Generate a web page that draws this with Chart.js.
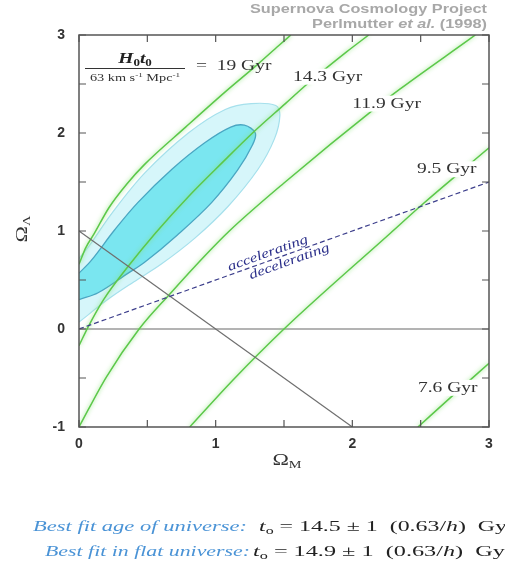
<!DOCTYPE html>
<html>
<head>
<meta charset="utf-8">
<script src="https://cdn.jsdelivr.net/npm/chart.js@4.4.1/dist/chart.umd.min.js"></script>
<style>
html, body { margin: 0; padding: 0; background: #fff; }
canvas { display: block; }
</style>
</head>
<body>
<canvas id="cosmo" width="505" height="571"></canvas>
<script>
// tick values (labels only on integers)
const xTickLabels = [0, 1, 2, 3];
const yTickLabels = [-1, 0, 1, 2, 3];

// constant age curves [Omega_M, Omega_Lambda]
const age19 = [[0, 0.66], [0.05, 0.83], [0.11, 0.97], [0.22, 1.24], [0.35, 1.48], [0.48, 1.68], [0.78, 2.06], [1.07, 2.42], [1.29, 2.68], [1.46, 2.89], [1.55, 3.0]];
const age143 = [[0, -0.17], [0.07, 0.03], [0.18, 0.30], [0.36, 0.64], [0.56, 0.98], [0.80, 1.35], [1.05, 1.70], [1.27, 2.0], [1.51, 2.30], [1.67, 2.5], [1.96, 2.83], [2.12, 3.0]];
const age119 = [[0, -1.0], [0.2, -0.49], [0.44, 0], [0.66, 0.35], [0.93, 0.76], [1.1, 1.0], [1.5, 1.49], [2.2, 2.29], [2.35, 2.45], [2.84, 2.94], [2.9, 3.0]];
const age95 = [[0.81, -1.0], [1.12, -0.53], [1.5, 0], [2.28, 0.98], [2.52, 1.28], [2.84, 1.66], [3.0, 1.85]];
const age76 = [[2.48, -1.0], [2.75, -0.66], [3.0, -0.35]];

// confidence regions (closed outlines, clipped at Omega_M = 0)
const inner68 = [[0, 0.30], [0.14, 0.37], [0.36, 0.57], [0.48, 0.68], [0.72, 0.96], [0.97, 1.29], [1.16, 1.62], [1.27, 1.88], [1.29, 2.0], [1.21, 2.08], [1.11, 2.06], [0.92, 1.90], [0.68, 1.63], [0.43, 1.29], [0.26, 1.01], [0.09, 0.70], [0, 0.57]];
const outer95 = [[0, 0.07], [0.21, 0.30], [0.40, 0.48], [0.60, 0.66], [0.85, 0.93], [1.09, 1.25], [1.31, 1.63], [1.43, 1.94], [1.47, 2.18], [1.44, 2.28], [1.26, 2.30], [1.07, 2.24], [0.80, 2.0], [0.48, 1.59], [0.24, 1.18], [0.07, 0.84], [0, 0.72]];

// reference lines
const zeroLine = [[0, 0], [3, 0]];
const flatLine = [[0, 1], [2, -1]];
const accelLine = [[0, 0], [3, 1.5]];

const SX = 1.3; // the original picture is stretched sideways
const SERIF = '"Liberation Serif", "DejaVu Serif", serif';
const SANS = '"Liberation Sans", Arial, sans-serif';

const pts = arr => arr.map(p => ({ x: p[0], y: p[1] }));

function curve(data, order) {
    return {
        data: pts(data), showLine: true, pointRadius: 0, borderColor: '#5cc84a',
        borderWidth: 1.5, cubicInterpolationMode: 'monotone', fill: false, glow: true, order: order
    };
}

function region(data, fillCol, lineCol, lw, order) {
    return {
        data: pts(data), showLine: true, pointRadius: 0, tension: 0.35, fill: 'shape',
        backgroundColor: fillCol, borderColor: lineCol, borderWidth: lw, order: order
    };
}

function runsWidth(ctx, list, sx) {
    let w = 0;
    list.forEach(r => { ctx.font = r.f; w += ctx.measureText(r.t).width * sx; });
    return w;
}

// draw text runs one after the other, stretched sideways by sx
function runs(ctx, list, x, y, sx = SX) {
    let cx = x;
    list.forEach(r => {
        ctx.save();
        ctx.font = r.f;
        ctx.fillStyle = r.c || '#222';
        ctx.textBaseline = 'alphabetic';
        ctx.textAlign = 'left';
        ctx.translate(cx, y + (r.dy || 0));
        ctx.scale(sx, 1);
        ctx.fillText(r.t, 0, 0);
        cx += ctx.measureText(r.t).width * sx;
        ctx.restore();
    });
    return cx;
}

// same, squeezed or stretched to a given width
function runsFit(ctx, list, x, y, w) {
    runs(ctx, list, x, y, w / runsWidth(ctx, list, 1));
}

function gyrLabel(ctx, text, px, py) {
    const f = '15px ' + SERIF;
    ctx.font = f;
    const w = ctx.measureText(text).width * SX;
    ctx.fillStyle = '#fff';
    ctx.fillRect(px - 2, py - 12, w + 4, 16);
    runs(ctx, [{ t: text, f: f, c: '#333' }], px, py);
}

const decoPlugin = {
    id: 'deco',
    beforeDatasetDraw(chart, args) {
        const ds = chart.data.datasets[args.index];
        if (ds.glow) {
            chart.ctx.save();
            chart.ctx.shadowColor = 'rgba(130,225,110,0.9)';
            chart.ctx.shadowBlur = 4;
        }
    },
    afterDatasetDraw(chart, args) {
        if (chart.data.datasets[args.index].glow) chart.ctx.restore();
    },
    afterDatasetsDraw(chart) {
        const { ctx, chartArea: a, scales: { x, y } } = chart;

        // age labels on white patches
        gyrLabel(ctx, '14.3 Gyr', x.getPixelForValue(1.565), y.getPixelForValue(2.585) + 5);
        gyrLabel(ctx, '11.9 Gyr', x.getPixelForValue(2.0), y.getPixelForValue(2.31) + 5);
        gyrLabel(ctx, '9.5 Gyr', x.getPixelForValue(2.473), y.getPixelForValue(1.64) + 5);
        gyrLabel(ctx, '7.6 Gyr', x.getPixelForValue(2.48), y.getPixelForValue(-0.59) + 5);

        // H0 t0 legend
        const cx = 135;
        const num = [
            { t: 'H', f: 'italic bold 15px ' + SERIF },
            { t: '0', f: 'bold 10px ' + SERIF, dy: 3 },
            { t: 't', f: 'italic bold 15px ' + SERIF },
            { t: '0', f: 'bold 10px ' + SERIF, dy: 3 }
        ];
        runs(ctx, num, cx - runsWidth(ctx, num, SX) / 2, 63);
        ctx.strokeStyle = '#333';
        ctx.lineWidth = 1;
        ctx.beginPath();
        ctx.moveTo(85, 68.5);
        ctx.lineTo(185, 68.5);
        ctx.stroke();
        const den = [
            { t: '63 km s', f: '11px ' + SERIF, c: '#333' },
            { t: '-1', f: '7px ' + SERIF, c: '#333', dy: -4 },
            { t: ' Mpc', f: '11px ' + SERIF, c: '#333' },
            { t: '-1', f: '7px ' + SERIF, c: '#333', dy: -4 }
        ];
        runs(ctx, den, cx - runsWidth(ctx, den, SX) / 2, 81);
        runs(ctx, [{ t: '=  19 Gyr', f: '15px ' + SERIF, c: '#333' }], 196, 70);

        // accelerating / decelerating along the dashed line
        const x0 = x.getPixelForValue(0), y0 = y.getPixelForValue(0);
        const x1 = x.getPixelForValue(3), y1 = y.getPixelForValue(1.5);
        const ang = Math.atan2(y1 - y0, x1 - x0);
        const along = (v, off, text) => {
            const px = x.getPixelForValue(v), py = y.getPixelForValue(v / 2);
            const item = [{ t: text, f: 'italic 13px ' + SERIF, c: '#2b2f8a' }];
            ctx.save();
            ctx.translate(px, py);
            ctx.rotate(ang);
            runs(ctx, item, -runsWidth(ctx, item, SX) / 2, off);
            ctx.restore();
        };
        along(1.40, -4, 'accelerating');
        along(1.52, 11, 'decelerating');

        // frame and inward ticks on all four sides
        ctx.save();
        ctx.strokeStyle = '#555';
        ctx.lineWidth = 1.5;
        ctx.strokeRect(a.left, a.top, a.right - a.left, a.bottom - a.top);
        ctx.lineWidth = 1.2;
        ctx.beginPath();
        x.ticks.forEach(t => {
            const p = x.getPixelForValue(t.value);
            ctx.moveTo(p, a.bottom); ctx.lineTo(p, a.bottom - 7);
            ctx.moveTo(p, a.top); ctx.lineTo(p, a.top + 7);
        });
        y.ticks.forEach(t => {
            const p = y.getPixelForValue(t.value);
            ctx.moveTo(a.left, p); ctx.lineTo(a.left + 7, p);
            ctx.moveTo(a.right, p); ctx.lineTo(a.right - 7, p);
        });
        ctx.stroke();
        ctx.restore();
    },
    afterDraw(chart) {
        const { ctx, chartArea: a } = chart;

        // axis titles
        const om = [{ t: 'Ω', f: '17px ' + SERIF, c: '#333' }, { t: 'M', f: '11px ' + SERIF, c: '#333', dy: 3 }];
        runs(ctx, om, (a.left + a.right) / 2 - runsWidth(ctx, om, SX) / 2 + 3, 465);
        ctx.save();
        ctx.translate(27, (a.top + a.bottom) / 2 - 2);
        ctx.rotate(-Math.PI / 2);
        const ol = [{ t: 'Ω', f: '17px ' + SERIF, c: '#333' }, { t: 'Λ', f: '11px ' + SERIF, c: '#333', dy: 3 }];
        runs(ctx, ol, -runsWidth(ctx, ol, SX) / 2, 0);
        ctx.restore();

        // credit in the corner
        const grey = '#a8a8a8';
        runsFit(ctx, [{ t: 'Supernova Cosmology Project', f: 'bold 12px ' + SANS, c: grey }], 250, 13, 237);
        runsFit(ctx, [
            { t: 'Perlmutter ', f: 'bold 12px ' + SANS, c: grey },
            { t: 'et al.', f: 'italic bold 12px ' + SANS, c: grey },
            { t: ' (1998)', f: 'bold 12px ' + SANS, c: grey }
        ], 312, 28, 175);

        // best fit lines under the chart
        const blue = '#4a93d6';
        runsFit(ctx, [{ t: 'Best fit age of universe:', f: 'italic 15px ' + SERIF, c: blue }], 33, 531, 214);
        runsFit(ctx, [
            { t: 't', f: 'italic 15px ' + SERIF, c: '#222' },
            { t: 'o', f: '10px ' + SERIF, c: '#222', dy: 3 },
            { t: ' = 14.5 ± 1  (0.63/', f: '15px ' + SERIF, c: '#222' },
            { t: 'h', f: 'italic 15px ' + SERIF, c: '#222' },
            { t: ')  Gyr', f: '15px ' + SERIF, c: '#222' }
        ], 259, 531, 256);
        runsFit(ctx, [{ t: 'Best fit in flat universe:', f: 'italic 15px ' + SERIF, c: blue }], 45, 556, 205);
        runsFit(ctx, [
            { t: 't', f: 'italic 15px ' + SERIF, c: '#222' },
            { t: 'o', f: '10px ' + SERIF, c: '#222', dy: 3 },
            { t: ' = 14.9 ± 1  (0.63/', f: '15px ' + SERIF, c: '#222' },
            { t: 'h', f: 'italic 15px ' + SERIF, c: '#222' },
            { t: ')  Gyr', f: '15px ' + SERIF, c: '#222' }
        ], 253, 556, 260);
    }
};

new Chart(document.getElementById('cosmo').getContext('2d'), {
    type: 'scatter',
    data: {
        datasets: [
            region(outer95, 'rgb(214,246,250)', '#a6e0ec', 1.2, 10),
            region(inner68, 'rgb(122,230,240)', '#4aa6c2', 1.3, 9),
            { data: pts(zeroLine), showLine: true, pointRadius: 0, borderColor: '#9a9a9a', borderWidth: 1.5, order: 6 },
            curve(age19, 4), curve(age143, 4), curve(age119, 4), curve(age95, 4), curve(age76, 4),
            { data: pts(flatLine), showLine: true, pointRadius: 0, borderColor: '#6f6f6f', borderWidth: 1.2, order: 2 },
            { data: pts(accelLine), showLine: true, pointRadius: 0, borderColor: '#3d3f8c', borderWidth: 1.2,
              borderDash: [5, 3], order: 1 }
        ]
    },
    options: {
        responsive: false,
        animation: false,
        layout: { padding: { left: 0, top: 35, right: 16, bottom: 0 } },
        plugins: { legend: { display: false }, tooltip: { enabled: false } },
        scales: {
            x: {
                type: 'linear', min: 0, max: 3,
                grid: { display: false, drawTicks: false },
                border: { display: false },
                ticks: {
                    stepSize: 0.5, padding: 9, color: '#333',
                    font: { family: SANS, size: 14, weight: 'bold' },
                    callback: v => xTickLabels.includes(v) ? String(v) : ''
                },
                afterFit: s => { s.height = 144; }
            },
            y: {
                type: 'linear', min: -1, max: 3,
                grid: { display: false, drawTicks: false },
                border: { display: false },
                ticks: {
                    stepSize: 0.5, padding: 14, color: '#333',
                    font: { family: SANS, size: 14, weight: 'bold' },
                    callback: v => yTickLabels.includes(v) ? String(v) : ''
                },
                afterFit: s => { s.width = 79; }
            }
        }
    },
    plugins: [decoPlugin]
});
</script>
</body>
</html>
